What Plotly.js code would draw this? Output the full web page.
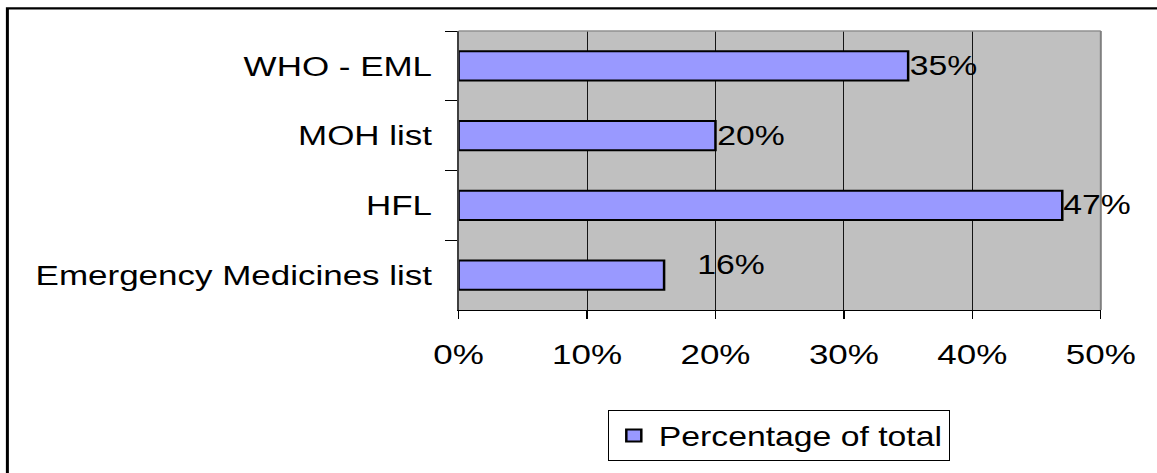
<!DOCTYPE html>
<html>
<head>
<meta charset="utf-8">
<script src="https://cdn.plot.ly/plotly-3.0.1.min.js"></script>
<style>
  html, body { margin: 0; padding: 0; background: #ffffff; overflow: hidden; }
  /* the chart is laid out narrower and stretched to the full window width */
  #wrap { width: 1157px; height: 473px; overflow: hidden; }
  #chart { width: 926px; height: 473px; transform: scaleX(1.2495); transform-origin: 0 0; }
</style>
</head>
<body>
<div id="wrap"><div id="chart"></div></div>
<script>
// Share of medicines found on each list, in percent
const categories = ['WHO - EML', 'MOH list', 'HFL', 'Emergency Medicines list'];
const shares = [35, 20, 47, 16];
const seriesName = 'Percentage of total';
const xTickValues = [0, 10, 20, 30, 40, 50];
const xTickLabels = ['0%', '10%', '20%', '30%', '40%', '50%'];

const FONT = 'Liberation Sans, Arial, Helvetica, sans-serif';
const FS = 28;

// value labels sit just past the bar ends; the last one is nudged right and up
const labelShift = { 'Emergency Medicines list': { x: 26, y: 10 } };

const bars = {
  type: 'bar',
  orientation: 'h',
  y: categories,
  x: shares,
  name: seriesName,
  showlegend: true,
  marker: { color: '#9999FF', line: { color: '#000000', width: 2 } },
  hoverinfo: 'skip'
};

const valueLabels = categories.map((c, i) => {
  const s = labelShift[c] || { x: 0, y: 0 };
  return {
    xref: 'x', yref: 'y', x: shares[i], y: c,
    text: shares[i] + '%',
    showarrow: false, xanchor: 'left', yanchor: 'middle',
    xshift: s.x - 1, yshift: s.y,
    font: { family: FONT, size: 27, color: '#000000' }
  };
});

const layout = {
  width: 926, height: 473,
  margin: { l: 367, r: 45, t: 31, b: 158, pad: 0 },
  paper_bgcolor: '#ffffff',
  plot_bgcolor: '#C0C0C0',
  font: { family: FONT, size: FS, color: '#000000' },
  bargap: 0.58,
  xaxis: {
    range: [0, 50],
    tickvals: xTickValues, ticktext: xTickLabels,
    ticks: 'outside', ticklen: 8, tickwidth: 1, tickcolor: '#000000',
    ticklabelstandoff: 11,
    showgrid: true, gridcolor: '#000000', gridwidth: 0.8,
    zeroline: false,
    showline: true, linecolor: '#000000', linewidth: 1,
    tickfont: { family: FONT, size: FS, color: '#000000' },
    fixedrange: true
  },
  yaxis: {
    type: 'category',
    autorange: 'reversed',
    tickson: 'boundaries',
    ticks: 'outside', ticklen: 9, tickwidth: 1, tickcolor: '#000000',
    ticklabelstandoff: 14,
    showgrid: false, zeroline: false,
    showline: true, linecolor: '#404040', linewidth: 1.6,
    tickfont: { family: FONT, size: FS, color: '#000000' },
    fixedrange: true
  },
  legend: {
    x: 0.232, xanchor: 'left',
    y: -0.36, yanchor: 'top',
    bgcolor: '#ffffff', bordercolor: '#000000', borderwidth: 1,
    font: { family: FONT, size: 27, color: '#000000' }
  },
  annotations: valueLabels,
  shapes: [
    // plot area frame, top and right sides
    { type: 'line', xref: 'paper', yref: 'paper', x0: 0, x1: 1, y0: 1, y1: 1,
      line: { color: '#909090', width: 1.5 }, layer: 'above' },
    { type: 'line', xref: 'paper', yref: 'paper', x0: 1, x1: 1, y0: 0, y1: 1,
      line: { color: '#808080', width: 1.6 }, layer: 'above' },
    // outer chart border
    { type: 'rect', xref: 'paper', yref: 'paper', x0: -0.7025, x1: 3, y0: -3, y1: 1.081,
      line: { color: '#000000', width: 2.4 }, fillcolor: 'rgba(0,0,0,0)', layer: 'below' }
  ]
};

Plotly.newPlot('chart', [bars], layout, { displayModeBar: false, staticPlot: true });
</script>
</body>
</html>
